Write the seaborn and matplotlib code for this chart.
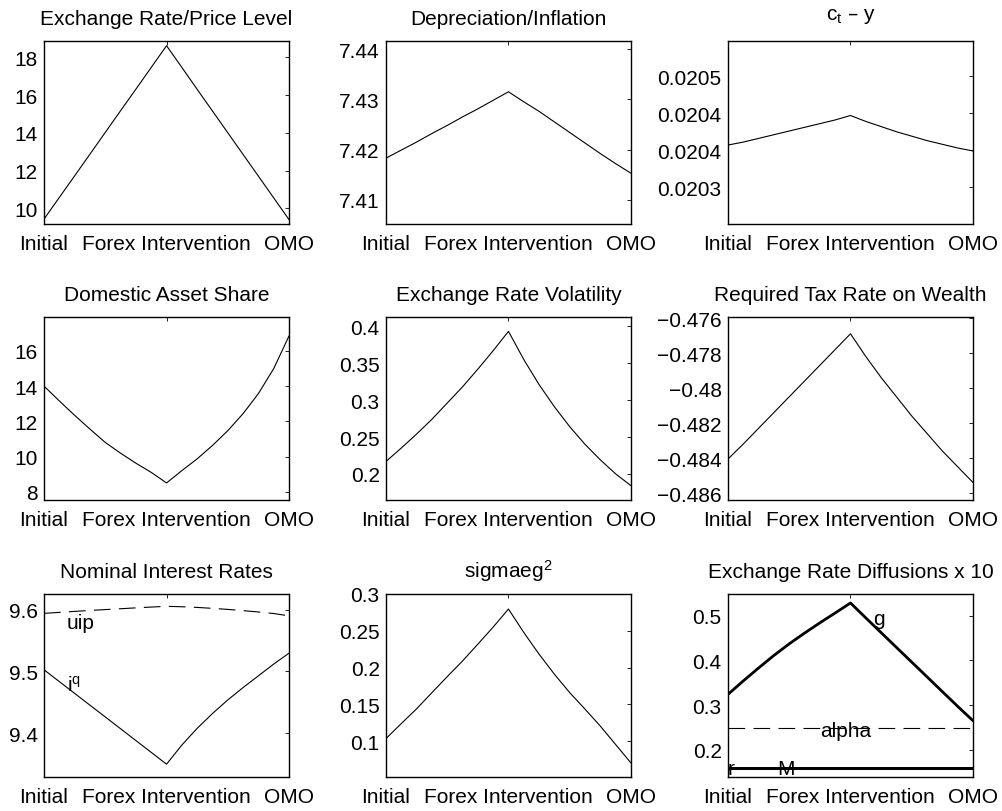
import numpy as np
import pandas as pd
import matplotlib
matplotlib.use("Agg")
import matplotlib.pyplot as plt
import seaborn as sns

# --- DATA ---
x_pos = [1, 1.125, 1.25, 1.375, 1.5, 1.625, 1.75, 1.875, 2,
         2.125, 2.25, 2.375, 2.5, 2.625, 2.75, 2.875, 3]
x_ticks = [1, 2, 3]
x_labels = ['Initial', 'Forex Intervention', 'OMO']

exch_price = [9.43, 10.58, 11.72, 12.87, 14.02, 15.17, 16.31, 17.46, 18.61,
              17.46, 16.3, 15.15, 14.0, 12.85, 11.7, 10.55, 9.40]
depr_infl = [7.4183, 7.4199, 7.4215, 7.4232, 7.4248, 7.4265, 7.4281, 7.4298, 7.4315,
             7.4295, 7.4276, 7.4255, 7.4234, 7.4213, 7.4192, 7.4172, 7.4153]
ct_minus_y = [0.020407, 0.020411, 0.020416, 0.020421, 0.020426, 0.020431, 0.020436,
              0.020441, 0.020447, 0.020439, 0.020432, 0.020425, 0.020419, 0.020413,
              0.020408, 0.020403, 0.020399]
dom_share = [14.0, 13.16, 12.34, 11.56, 10.8, 10.19, 9.62, 9.1, 8.5,
             9.2, 9.87, 10.63, 11.47, 12.44, 13.58, 15.0, 16.86]
exch_vol = [0.2168, 0.235, 0.254, 0.274, 0.296, 0.318, 0.342, 0.367, 0.3932,
            0.355, 0.321, 0.291, 0.264, 0.240, 0.219, 0.200, 0.184]
tax_rate = [-0.48406, -0.4832, -0.4823, -0.4814, -0.4805, -0.4796, -0.4787, -0.4778, -0.4769,
            -0.4782, -0.4794, -0.4805, -0.4816, -0.4826, -0.4836, -0.4845, -0.4854]
rate_iq = [9.5027, 9.4836, 9.4645, 9.4454, 9.4264, 9.4073, 9.3882, 9.3691, 9.350,
           9.381, 9.408, 9.432, 9.454, 9.474, 9.493, 9.512, 9.5297]
rate_uip = [9.594, 9.5956, 9.5972, 9.5987, 9.6001, 9.6015, 9.6029, 9.6042, 9.6054,
            9.6047, 9.6036, 9.6021, 9.6004, 9.5984, 9.5962, 9.5937, 9.590]
sigmaeg2 = [0.1036, 0.124, 0.144, 0.166, 0.1877, 0.209, 0.2318, 0.255, 0.2795,
            0.2477, 0.2182, 0.191, 0.166, 0.1436, 0.1205, 0.0955, 0.0705]
diff_g = [0.3239, 0.354, 0.383, 0.411, 0.437, 0.461, 0.484, 0.506, 0.5284,
          0.495, 0.462, 0.429, 0.396, 0.363, 0.330, 0.297, 0.2649]
diff_alpha = [0.248] * 17
diff_r = [0.159] * 17
diff_M = [0.159] * 17

# y ticks and labels per panel
yt_1 = [10, 12, 14, 16, 18]
yt_2 = [7.41, 7.42, 7.43, 7.44]
yt_3 = [0.02035, 0.0204, 0.02045, 0.0205]
yl_3 = ['0.0203', '0.0204', '0.0204', '0.0205']
yt_4 = [8, 10, 12, 14, 16]
yt_5 = [0.2, 0.25, 0.3, 0.35, 0.4]
yl_5 = ['0.2', '0.25', '0.3', '0.35', '0.4']
yt_6 = [-0.486, -0.484, -0.482, -0.48, -0.478, -0.476]
yl_6 = ['\u22120.486', '\u22120.484', '\u22120.482', '\u22120.48', '\u22120.478', '\u22120.476']
yt_7 = [9.4, 9.5, 9.6]
yt_8 = [0.1, 0.15, 0.2, 0.25, 0.3]
yl_8 = ['0.1', '0.15', '0.2', '0.25', '0.3']
yt_9 = [0.2, 0.3, 0.4, 0.5]

# --- STYLE ---
sns.set_theme(style="white")
plt.rcParams['font.family'] = ['Liberation Sans', 'DejaVu Sans']
plt.rcParams['mathtext.default'] = 'regular'
plt.rcParams['lines.scale_dashes'] = False
plt.rcParams['text.color'] = 'black'
plt.rcParams['axes.titlecolor'] = 'black'
FS = 15
DASH = (0, (12, 6))

fig = plt.figure(figsize=(10.03, 8.12), dpi=100)
lefts = [0.0439, 0.3848, 0.7258]
bottoms = [0.7229, 0.3830, 0.0419]
W, H = 0.2443, 0.2254
axes = [[fig.add_axes([l, b, W, H]) for l in lefts] for b in bottoms]


def style_axis(ax, title, ylim, yticks, ylabels=None, pad=12):
    ax.set_xlim(1, 3)
    ax.set_ylim(*ylim)
    ax.set_xticks(x_ticks)
    ax.set_xticklabels(x_labels)
    ax.set_yticks(yticks)
    if ylabels is not None:
        ax.set_yticklabels(ylabels)
    ax.set_title(title, fontsize=FS, pad=pad, color='black')
    ax.set_xlabel('')
    ax.set_ylabel('')
    ax.tick_params(direction='in', top=True, right=True, length=3, width=0.6,
                   labelsize=FS, colors='black')
    ax.tick_params(axis='x', pad=7)
    ax.tick_params(axis='y', pad=4.5)
    for s in ax.spines.values():
        s.set_visible(True)
        s.set_color('black')
        s.set_linewidth(1.0)


def line(ax, y, lw=0.8, ls='-'):
    sns.lineplot(x=x_pos, y=y, ax=ax, color='black', linewidth=lw, linestyle=ls)


# row 1
ax = axes[0][0]
line(ax, exch_price)
style_axis(ax, 'Exchange Rate/Price Level', (9.17, 18.86), yt_1)

ax = axes[0][1]
line(ax, depr_infl)
style_axis(ax, 'Depreciation/Inflation', (7.4052, 7.4416), yt_2)

ax = axes[0][2]
line(ax, ct_minus_y)
style_axis(ax, 'c$_t$ \u2013 y', (0.0203, 0.020548), yt_3, yl_3, pad=16)

# row 2
ax = axes[1][0]
line(ax, dom_share)
style_axis(ax, 'Domestic Asset Share', (7.53, 17.93), yt_4)

ax = axes[1][1]
line(ax, exch_vol)
style_axis(ax, 'Exchange Rate Volatility', (0.1646, 0.4127), yt_5, yl_5)

ax = axes[1][2]
line(ax, tax_rate)
style_axis(ax, 'Required Tax Rate on Wealth', (-0.4864, -0.47594), yt_6, yl_6)

# row 3
ax = axes[2][0]
line(ax, rate_uip, ls=DASH)
line(ax, rate_iq)
style_axis(ax, 'Nominal Interest Rates', (9.3293, 9.6254), yt_7)
ax.text(1.185, 9.580, 'uip', fontsize=FS, ha='left', va='center')
ax.text(1.185, 9.478, 'i$^q$', fontsize=FS, ha='left', va='center')

ax = axes[2][1]
line(ax, sigmaeg2)
style_axis(ax, 'sigmaeg$^2$', (0.0515, 0.3), yt_8, yl_8)

ax = axes[2][2]
line(ax, diff_g, lw=2.0)
line(ax, diff_alpha, ls=DASH)
line(ax, diff_r, lw=2.0)
line(ax, diff_M, lw=2.0)
style_axis(ax, 'Exchange Rate Diffusions x 10', (0.139, 0.5486), yt_9)
ax.text(2.185, 0.493, 'g', fontsize=FS, ha='left', va='center')
ax.text(1.75, 0.243, 'alpha', fontsize=FS, ha='left', va='center')
ax.text(1.0, 0.159, 'r', fontsize=FS, ha='left', va='center')
ax.text(1.40, 0.159, 'M', fontsize=FS, ha='left', va='center')

fig.savefig('out.png', dpi=100, facecolor='white')
